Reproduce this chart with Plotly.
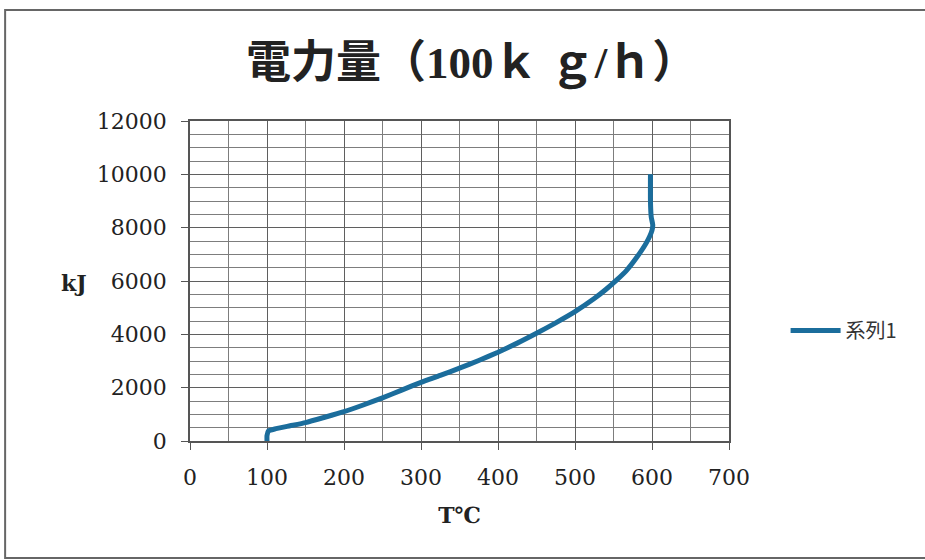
import plotly.graph_objects as go

# Temperature (°C) and electric energy (kJ) for a 100 kg/h throughput
temp_c = [100, 100, 102, 110, 130, 150, 175, 200, 225, 250, 275, 300, 325, 350, 375,
          400, 425, 450, 475, 500, 525, 540, 555, 567, 580, 593, 600, 601, 599, 598, 598]
energy_kj = [0, 200, 380, 450, 570, 690, 890, 1100, 1350, 1620, 1910, 2200, 2460, 2730, 3020,
             3330, 3670, 4040, 4430, 4850, 5340, 5680, 6060, 6400, 6880, 7450, 7900, 8100, 8400, 9000, 10000]

series_name = "系列1"
title_text = "電力量（100ｋ ｇ/ｈ）"
x_title = "T℃"
y_title = "kJ"

x_ticks = [0, 100, 200, 300, 400, 500, 600, 700]
y_ticks = [0, 2000, 4000, 6000, 8000, 10000, 12000]

serif = "DejaVu Serif, Liberation Serif, Noto Sans CJK JP, serif"
line_color = "#1b6d9c"

fig = go.Figure()
fig.add_trace(go.Scatter(
    x=temp_c, y=energy_kj, mode="lines", name=series_name,
    line=dict(color=line_color, width=5, shape="spline", smoothing=0.5),
))

fig.update_layout(
    width=925, height=560,
    margin=dict(l=190, r=196, t=121, b=119),
    paper_bgcolor="white", plot_bgcolor="white",
    title=dict(text=f"<b>{title_text}</b>", x=0.51, xanchor="center",
               y=1 - 62 / 560, yanchor="middle",
               font=dict(family="Liberation Serif, Noto Sans CJK JP, serif", size=45, color="#222")),
    showlegend=True,
    legend=dict(x=1.105, y=0.345, xanchor="left", yanchor="middle",
                font=dict(family="Noto Sans CJK JP, serif", size=20, color="#333"),
                bgcolor="rgba(0,0,0,0)", itemwidth=50),
    font=dict(family=serif, color="#222"),
)

fig.update_xaxes(
    range=[0, 700], tickvals=x_ticks, ticktext=[str(v) for v in x_ticks],
    tickfont=dict(family=serif, size=22, color="#222"),
    ticks="outside", ticklen=7, tickcolor="#555", ticklabelstandoff=9,
    showline=True, linecolor="#555", linewidth=1.5, mirror=True,
    showgrid=True, gridcolor="#5f5f5f", gridwidth=1.2,
    minor=dict(dtick=50, showgrid=True, gridcolor="#7d7d7d", gridwidth=1),
    zeroline=False,
    title=dict(text=f"<b>{x_title}</b>", font=dict(family=serif, size=22, color="#222"), standoff=18),
)
fig.update_yaxes(
    range=[0, 12000], tickvals=y_ticks, ticktext=[str(v) for v in y_ticks],
    tickfont=dict(family=serif, size=22, color="#222"),
    ticks="outside", ticklen=7, tickcolor="#555", ticklabelstandoff=10,
    showline=True, linecolor="#555", linewidth=1.5, mirror=True,
    showgrid=True, gridcolor="#5f5f5f", gridwidth=1.2,
    minor=dict(dtick=500, showgrid=True, gridcolor="#7d7d7d", gridwidth=1),
    zeroline=False,
)

# horizontal y-axis title to the left of the tick labels
fig.add_annotation(text=f"<b>{y_title}</b>", xref="paper", yref="paper",
                   x=-0.215, y=0.495, xanchor="center", yanchor="middle", showarrow=False,
                   font=dict(family=serif, size=22, color="#222"))

# outer chart frame (open on the right side)
fig.add_shape(type="path", xref="paper", yref="paper",
              path="M 1.4,1.347 L -0.343,1.347 L -0.343,-0.366 L 1.4,-0.366",
              line=dict(color="#666", width=2), layer="below")

fig.write_html("out.html")
